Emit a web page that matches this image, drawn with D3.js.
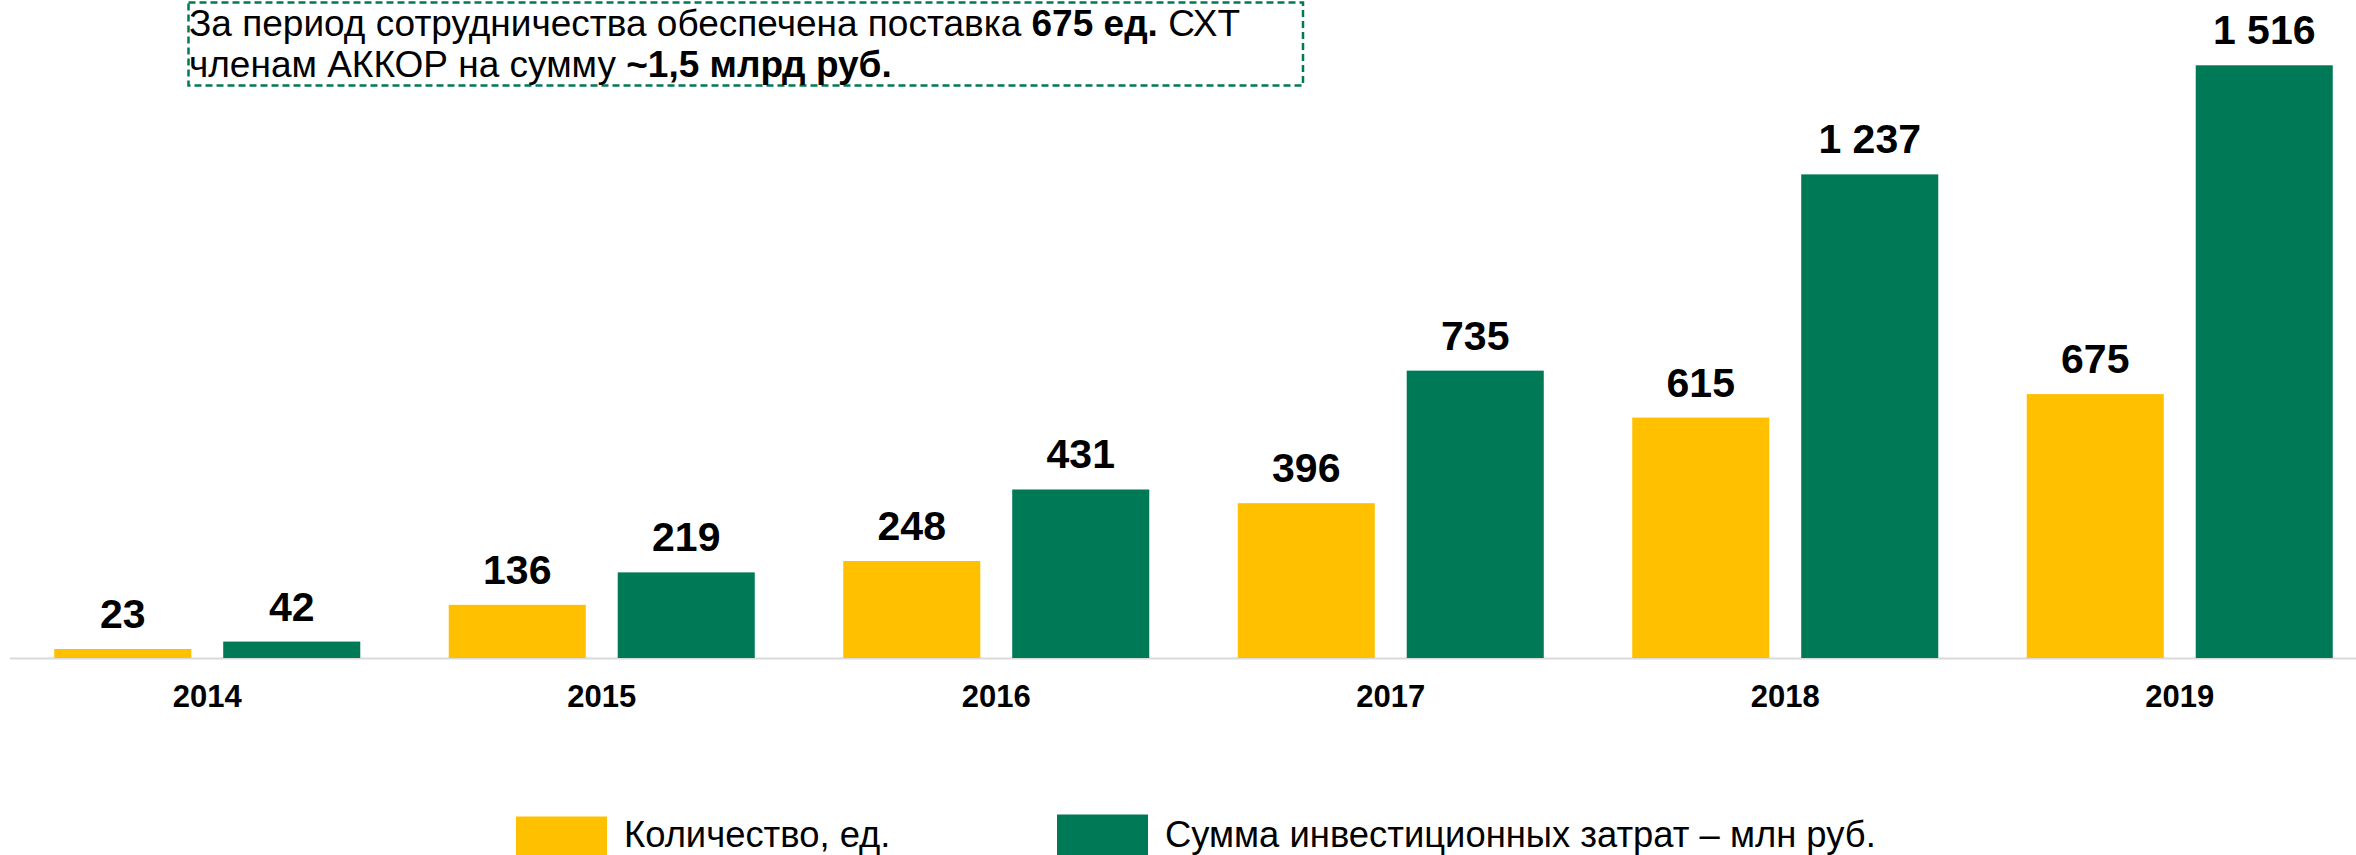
<!DOCTYPE html>
<html>
<head>
<meta charset="utf-8">
<script src="https://cdn.jsdelivr.net/npm/d3@7"></script>
<style>
  html, body { margin: 0; padding: 0; background: #ffffff; }
  svg { display: block; font-family: "Liberation Sans", Arial, sans-serif; }
</style>
</head>
<body>
<svg id="chart" width="2356" height="855"></svg>
<script>
// ---- data ----
const years = ["2014", "2015", "2016", "2017", "2018", "2019"];
const quantity = [23, 136, 248, 396, 615, 675];          // Количество, ед.
const investment = [42, 219, 431, 735, 1237, 1516];      // Сумма инвестиционных затрат – млн руб.
const seriesNames = ["Количество, ед.", "Сумма инвестиционных затрат – млн руб."];
const seriesKeys = ["q", "s"];
const colors = ["#FFC000", "#007A56"];
const yMax = 1683;

const W = 2356, H = 855;
const svg = d3.select("#chart");

const locale = d3.formatLocale({ decimal: ",", thousands: "\u00a0", grouping: [3], currency: ["", ""] });
const fmt = locale.format(",d");

const rows = years.map((y, i) => ({ year: y, q: quantity[i], s: investment[i] }));

// ---- scales ----
const x0 = d3.scaleBand()
  .domain(years)
  .range([10, 10 + 6 * 394.5])
  .paddingInner(0.2243)
  .paddingOuter(0.2243 / 2);

const x1 = d3.scaleBand()
  .domain(seriesKeys)
  .range([0, x0.bandwidth()])
  .paddingInner(0.189)
  .paddingOuter(0);

const y = d3.scaleLinear().domain([0, yMax]).range([658, 0]);

// ---- axis baseline ----
svg.append("line")
  .attr("x1", 10).attr("x2", W)
  .attr("y1", y(0) + 0.5).attr("y2", y(0) + 0.5)
  .attr("stroke", "#D9D9D9").attr("stroke-width", 2);

// ---- bars ----
const groups = svg.append("g").selectAll("g")
  .data(rows).join("g")
  .attr("transform", d => `translate(${x0(d.year)},0)`);

groups.selectAll("rect")
  .data(d => seriesKeys.map((k, i) => ({ key: k, value: d[k], color: colors[i] })))
  .join("rect")
  .attr("x", d => x1(d.key))
  .attr("width", x1.bandwidth())
  .attr("y", d => y(d.value))
  .attr("height", d => y(0) - y(d.value))
  .attr("fill", d => d.color);

groups.selectAll("text.val")
  .data(d => seriesKeys.map(k => ({ key: k, value: d[k] })))
  .join("text")
  .attr("class", "val")
  .attr("x", d => x1(d.key) + x1.bandwidth() / 2)
  .attr("y", d => y(d.value) - 21)
  .attr("text-anchor", "middle")
  .attr("font-size", 41)
  .attr("font-weight", "bold")
  .attr("fill", "#000")
  .text(d => fmt(d.value));

// ---- x axis labels ----
const xAxis = d3.axisBottom(x0).tickSize(0).tickPadding(0);
const gx = svg.append("g")
  .attr("transform", `translate(0,${y(0)})`)
  .call(xAxis);
gx.select(".domain").remove();
gx.selectAll("text")
  .attr("dy", null)
  .attr("y", 48.5)
  .attr("font-size", 31)
  .attr("font-weight", "bold")
  .attr("font-family", "Liberation Sans, Arial, sans-serif")
  .attr("fill", "#000");

// ---- annotation box ----
svg.append("rect")
  .attr("x", 188.5).attr("y", 2.5)
  .attr("width", 1114.5).attr("height", 83)
  .attr("fill", "none")
  .attr("stroke", "#007A56")
  .attr("stroke-width", 2.5)
  .attr("stroke-dasharray", "7,4");

const note = svg.append("text")
  .attr("font-size", 37)
  .attr("fill", "#000");
const l1 = note.append("tspan").attr("x", 189).attr("y", 35.5);
l1.append("tspan").text("За период сотрудничества обеспечена поставка ");
l1.append("tspan").attr("font-weight", "bold").text("675 ед.");
l1.append("tspan").text(" СХТ");
const l2 = note.append("tspan").attr("x", 189).attr("y", 76.5);
l2.append("tspan").text("членам АККОР на сумму ");
l2.append("tspan").attr("font-weight", "bold").text("~1,5 млрд руб.");

// ---- legend ----
const legendX = [516, 1057];
const legend = svg.append("g").selectAll("g")
  .data(seriesNames.map((n, i) => ({ name: n, color: colors[i], x: legendX[i] })))
  .join("g")
  .attr("transform", d => `translate(${d.x},0)`);
legend.append("rect")
  .attr("x", 0).attr("y", (d, i) => i === 0 ? 816.5 : 814.5)
  .attr("width", 91).attr("height", 50)
  .attr("fill", d => d.color);
legend.append("text")
  .attr("x", 108).attr("y", 846.5)
  .attr("font-size", 36.4)
  .attr("fill", "#000")
  .text(d => d.name);
</script>
</body>
</html>
